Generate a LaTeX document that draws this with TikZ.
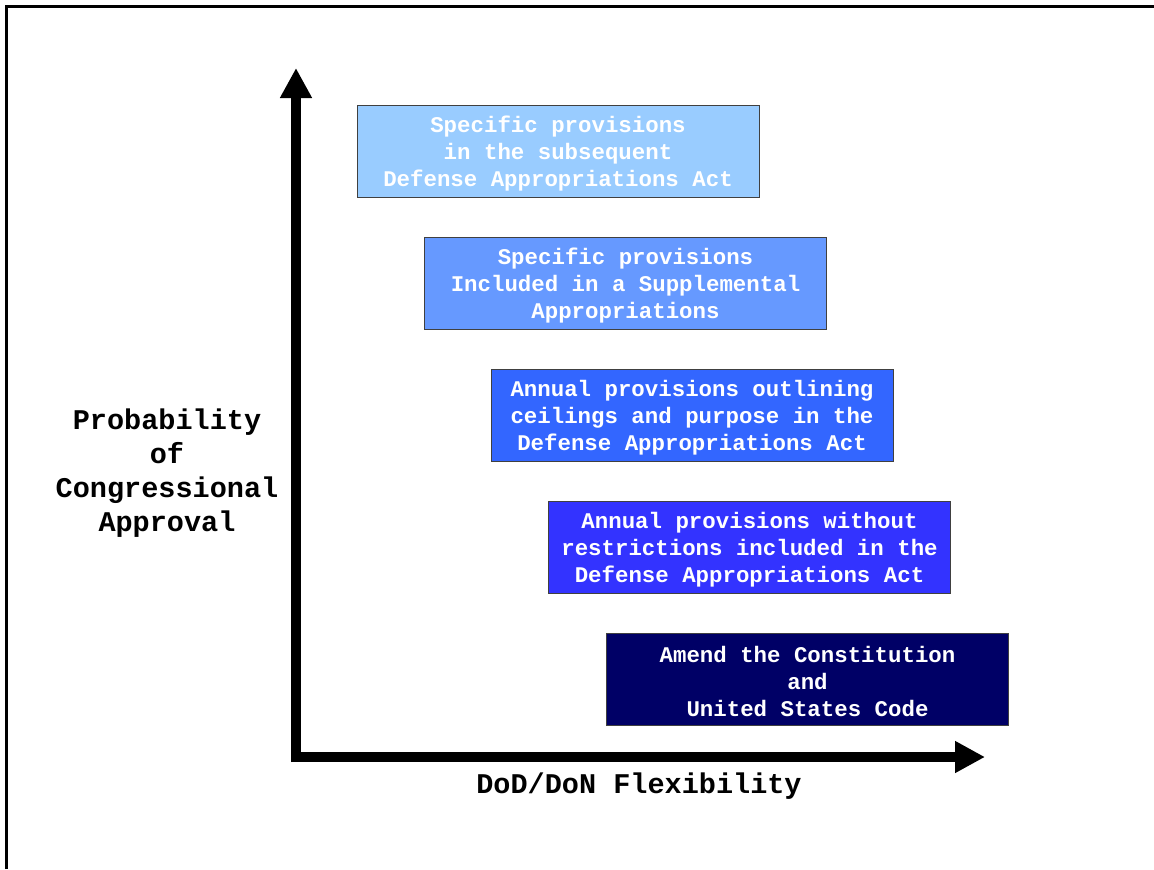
\documentclass[tikz,border=0pt]{standalone}
\usepackage{fontspec}
\setmonofont{Liberation Mono}
\usetikzlibrary{arrows.meta}

\definecolor{provA}{HTML}{99CCFF}
\definecolor{provB}{HTML}{6699FF}
\definecolor{provC}{HTML}{3366FF}
\definecolor{provD}{HTML}{3333FF}
\definecolor{provE}{HTML}{000066}

\begin{document}
\begin{tikzpicture}[x=0.75pt,y=-0.75pt,
  provbox/.style={draw=black!75, line width=0.75pt, minimum width=301.5pt, minimum height=69pt, inner sep=0pt, align=center, text=white, font=\ttfamily\bfseries\fontsize{16.8}{20.25}\selectfont},
  axislabel/.style={align=center, font=\ttfamily\bfseries\fontsize{21.4}{25.5}\selectfont},
  axis/.style={line width=7.5pt, -{Triangle[length=22.5pt, width=22.5pt]}}]
\useasboundingbox (0,0) rectangle (1154,869);
\draw[line width=2.25pt] (6,869) -- (6,6) -- (1154,6);

% axes
\coordinate (origin) at (296,757);
\coordinate (ytip) at (296,68);
\coordinate (xtip) at (985,757);
\draw[axis] ([yshift=-3.75pt]origin) -- (ytip);
\draw[axis] ([xshift=-3.75pt]origin) -- (xtip);

% options
\node[provbox, fill=provA](subseq) at (558,151) {\rule{0pt}{16pt}Specific provisions\\in the subsequent\\Defense Appropriations Act};
\node[provbox, fill=provB](suppl) at (625.5,283) {\rule{0pt}{16pt}Specific provisions\\Included in a Supplemental\\Appropriations};
\node[provbox, fill=provC](ceil) at (692,415.5) {\rule{0pt}{16pt}Annual provisions outlining\\ceilings and purpose in the\\Defense Appropriations Act};
\node[provbox, fill=provD](norestr) at (749.5,547.5) {\rule{0pt}{16pt}Annual provisions without\\restrictions included in the\\Defense Appropriations Act};
\node[provbox, fill=provE](amend) at (807.5,679) {\rule{0pt}{16pt}Amend the Constitution\\and\\United States Code};

% labels
\node[axislabel](ylab) at (167,473) {Probability\\of\\Congressional\\Approval};
\node[axislabel](xlab) at (639,786) {DoD/DoN Flexibility};
\end{tikzpicture}
\end{document}
